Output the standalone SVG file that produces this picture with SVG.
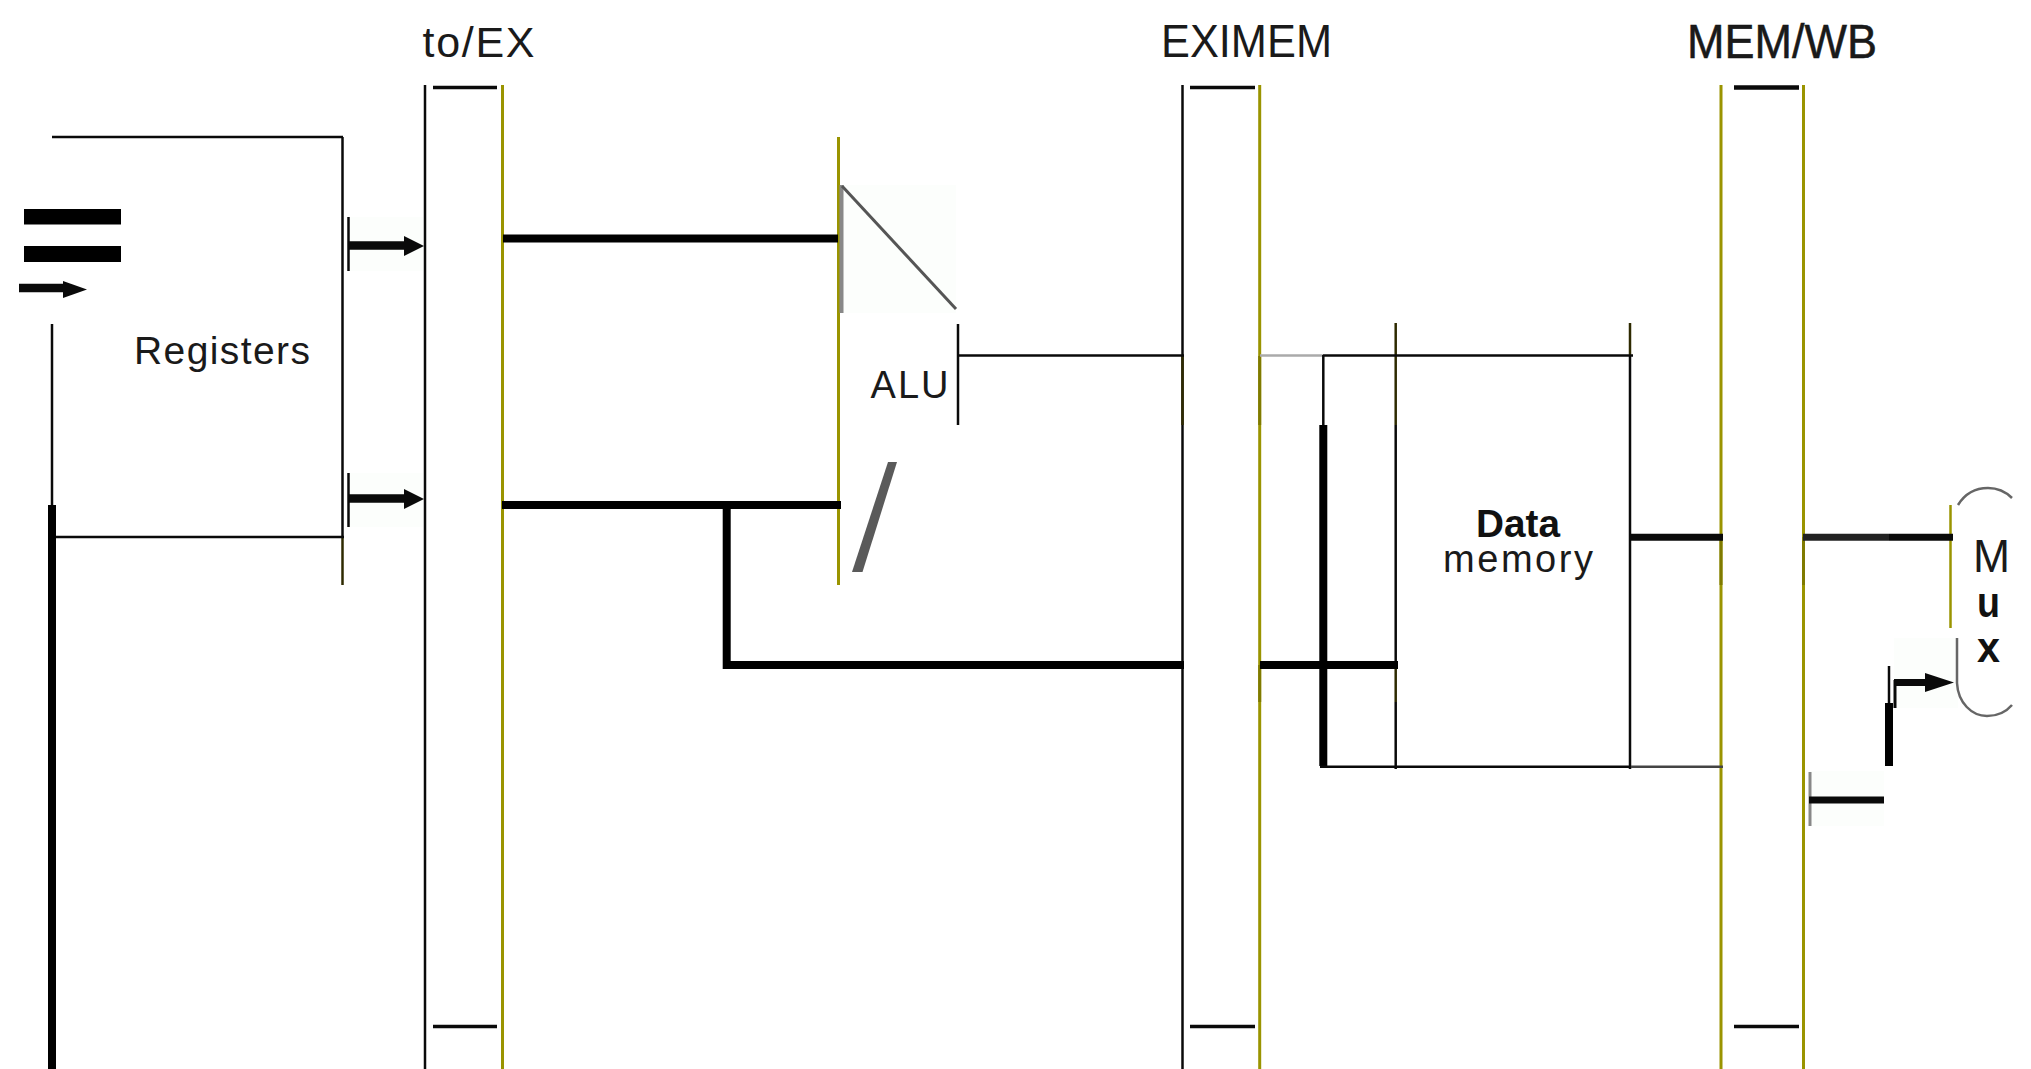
<svg xmlns="http://www.w3.org/2000/svg" width="2031" height="1069" viewBox="0 0 2031 1069">
<style>
text{font-family:"Liberation Sans",Arial,sans-serif;fill:#1a1a1a}
.b{font-weight:bold;fill:#111}
line,path{fill:none}
.k{stroke:#0a0a0a;stroke-width:2.5}
.o{stroke:#9a9400;stroke-width:3}
.do{stroke:#7f7a00;stroke-width:3}
.dk{stroke:#2e2a00;stroke-width:2.5}
.h{stroke:#000;stroke-width:8}
.m{stroke:#0a0a0a;stroke-width:7}
.a{stroke:#0a0a0a;stroke-width:8.500}
.d{stroke:#0a0a0a;stroke-width:3.5}
.g{stroke:#666;stroke-width:2.5}
.tint{fill:#fcfefc}
.head{fill:#0a0a0a}
</style>
<rect width="2031" height="1069" fill="#fff"/>
<g id="tints">
<rect class="tint" x="350" y="217" width="73" height="54"/>
<rect class="tint" x="350" y="473" width="73" height="54"/>
<rect class="tint" x="840" y="185" width="116" height="128"/>
<rect class="tint" x="1894" y="638" width="64" height="70"/>
<rect class="tint" x="1810" y="771" width="74" height="55"/>
</g>
<g id="registers">
<line class="k" x1="52" y1="137" x2="343" y2="137"/>
<line class="k" x1="342.500" y1="137" x2="342.500" y2="537"/>
<line class="dk" x1="342.500" y1="537" x2="342.500" y2="585"/>
<line class="k" x1="55" y1="537" x2="344" y2="537"/>
<line class="k" x1="52" y1="324" x2="52" y2="505"/>
<text id="registers-label" x="134" y="364" font-size="39" textLength="176" lengthAdjust="spacing">Registers</text>
</g>
<g id="register-inputs">
<rect x="24" y="209" width="97" height="15.500" fill="#000"/>
<rect x="24" y="246" width="97" height="16" fill="#000"/>
<line class="a" x1="19" y1="288" x2="66" y2="288"/>
<path class="head" d="M63 281L87 289.500L63 298Z"/>
</g>
<g id="id-ex">
<line class="k" x1="425" y1="85" x2="425" y2="1069"/>
<line class="o" x1="502.500" y1="85" x2="502.500" y2="1069"/>
<line class="d" x1="433" y1="87.500" x2="497" y2="87.500"/>
<line class="d" x1="433" y1="1026.500" x2="497" y2="1026.500"/>
<text x="422.500" y="57" font-size="43" textLength="112" lengthAdjust="spacing">to/EX</text>
</g>
<g id="ex-mem">
<line class="k" x1="1182.500" y1="85" x2="1182.500" y2="1069"/>
<line class="dk" x1="1182.500" y1="356" x2="1182.500" y2="425"/>
<line class="o" x1="1259.700" y1="85" x2="1259.700" y2="1069"/>
<line class="do" x1="1259.700" y1="356" x2="1259.700" y2="425"/>
<line class="do" x1="1259.700" y1="665" x2="1259.700" y2="702"/>
<line class="d" x1="1190" y1="87.500" x2="1255" y2="87.500"/>
<line class="d" x1="1190" y1="1026.500" x2="1255" y2="1026.500"/>
<text x="1161" y="57" font-size="47" textLength="171" lengthAdjust="spacingAndGlyphs">EXIMEM</text>
</g>
<g id="mem-wb">
<line class="o" x1="1721" y1="85" x2="1721" y2="1069"/>
<line class="do" x1="1721" y1="537" x2="1721" y2="585"/>
<line class="o" x1="1803.500" y1="85" x2="1803.500" y2="1069"/>
<line class="do" x1="1803.500" y1="537" x2="1803.500" y2="585"/>
<line class="d" x1="1734" y1="87.500" x2="1799" y2="87.500" style="stroke-width:4.500"/>
<line class="d" x1="1734" y1="1026.500" x2="1799" y2="1026.500"/>
<text x="1687" y="57.500" font-size="48" textLength="190" lengthAdjust="spacingAndGlyphs" style="stroke:#111;stroke-width:.5">MEM/WB</text>
</g>
<g id="alu">
<line class="o" x1="838.500" y1="137" x2="838.500" y2="585"/>
<line x1="841.500" y1="185" x2="841.500" y2="313" stroke="#888" stroke-width="4"/>
<line x1="842" y1="186" x2="956" y2="309" stroke="#555" stroke-width="3"/>
<line class="k" x1="958" y1="324" x2="958" y2="425"/>
<polygon points="888,462 897,462 862.500,572 852,572" fill="#5a5a5a"/>
<text x="870.500" y="398" font-size="38" textLength="78" lengthAdjust="spacing">ALU</text>
</g>
<g id="data-memory">
<line class="dk" x1="1395.700" y1="323" x2="1395.700" y2="425"/>
<line class="k" x1="1395.700" y1="425" x2="1395.700" y2="665"/>
<line class="dk" x1="1395.700" y1="665" x2="1395.700" y2="702"/>
<line class="k" x1="1395.700" y1="702" x2="1395.700" y2="769"/>
<line class="dk" x1="1630" y1="323" x2="1630" y2="356"/>
<line class="k" x1="1630" y1="356" x2="1630" y2="769"/>
<text class="b" x="1476" y="537" font-size="39" textLength="84" lengthAdjust="spacingAndGlyphs">Data</text>
<text x="1443" y="572" font-size="38" textLength="150" lengthAdjust="spacing">memory</text>
</g>
<g id="mux">
<line class="o" x1="1950.500" y1="505" x2="1950.500" y2="628" style="stroke-width:2.500"/>
<path class="g" d="M1958 505C1966 492 1978 488 1988 488C1998 488 2006 492 2012 498"/>
<path class="g" d="M1957 638V683C1958 703 1972 716 1987 716C1998 716 2006 712 2012 705"/>
<text x="1973" y="572" font-size="46" textLength="37" lengthAdjust="spacingAndGlyphs">M</text>
<text class="b" x="1977" y="617" font-size="42" textLength="23" lengthAdjust="spacingAndGlyphs">u</text>
<text class="b" x="1977" y="662" font-size="42" textLength="23" lengthAdjust="spacingAndGlyphs">x</text>
</g>
<g id="connectors">
<line class="k" x1="348.500" y1="217" x2="348.500" y2="271"/>
<line class="a" x1="348" y1="245.500" x2="406" y2="245.500"/>
<path class="head" d="M404 236L424 246L404 256Z"/>
<line class="k" x1="348.500" y1="473" x2="348.500" y2="527"/>
<line class="a" x1="348" y1="498.500" x2="406" y2="498.500"/>
<path class="head" d="M404 489L424 499L404 509Z"/>
<line class="h" x1="52" y1="505" x2="52" y2="1069"/>
<line class="h" x1="503" y1="238.500" x2="838" y2="238.500"/>
<line class="h" x1="502" y1="505" x2="841" y2="505"/>
<path class="h" d="M726.700 505V665H1184"/>
<line class="h" x1="1260" y1="665" x2="1398" y2="665"/>
<line class="k" x1="958" y1="355.500" x2="1184" y2="355.500"/>
<line x1="1260" y1="355.500" x2="1323" y2="355.500" stroke="#aaa" stroke-width="2.500"/>
<line class="k" x1="1323" y1="355.500" x2="1633" y2="355.500"/>
<line class="k" x1="1323.300" y1="355" x2="1323.300" y2="425"/>
<line class="h" x1="1323.300" y1="425" x2="1323.300" y2="766"/>
<line class="k" x1="1320" y1="766.700" x2="1631" y2="766.700"/>
<line x1="1631" y1="766.700" x2="1723" y2="766.700" stroke="#444" stroke-width="2.500"/>
<line class="m" x1="1630" y1="537.300" x2="1723" y2="537.300"/>
<line class="m" x1="1803" y1="537.300" x2="1889" y2="537.300" style="stroke:#222"/>
<line class="m" x1="1889" y1="537.300" x2="1953" y2="537.300"/>
<line class="k" x1="1889" y1="666" x2="1889" y2="703"/>
<line class="h" x1="1889" y1="703" x2="1889" y2="766"/>
<line x1="1895" y1="680" x2="1895" y2="708" stroke="#0a0a0a" stroke-width="3"/>
<line class="m" x1="1894" y1="682.500" x2="1928" y2="682.500"/>
<path class="head" d="M1925 673L1954 682.500L1925 692Z"/>
<line x1="1810" y1="772" x2="1810" y2="826" stroke="#888" stroke-width="3"/>
<line class="m" x1="1809" y1="800" x2="1884" y2="800"/>
</g>
</svg>
